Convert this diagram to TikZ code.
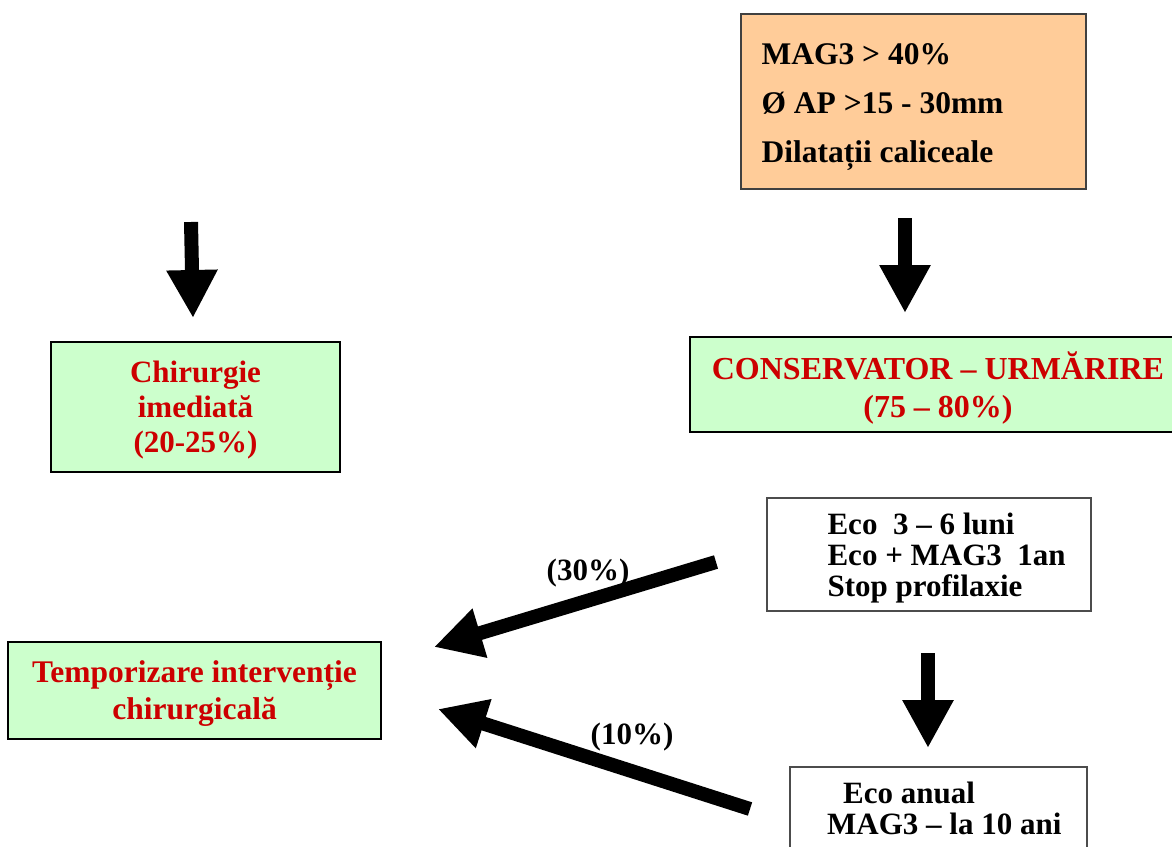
\documentclass[tikz,border=0pt]{standalone}
\usepackage{fontspec}
\setmainfont{Liberation Serif}
\usepackage{tikz}
\usetikzlibrary{positioning, arrows.meta}
\definecolor{boxOrange}{RGB}{255,204,153}
\definecolor{boxGreen}{RGB}{204,255,204}
\definecolor{txtRed}{RGB}{204,0,0}

\begin{document}
\begin{tikzpicture}[
    x=1pt, y=-1pt,
    greenbox/.style={rectangle, draw=black, line width=2pt, fill=boxGreen, text=txtRed, align=center, font=\fontsize{31}{35}\selectfont\bfseries, inner sep=0pt, text depth=0pt},
    plainbox/.style={rectangle, draw=black!70, line width=1.3pt, fill=white, inner sep=0pt},
    boxtext/.style={align=left, inner sep=0pt, font=\fontsize{31}{31}\selectfont\bfseries},
    bigarrow/.style={-{Triangle[width=48pt, length=48pt]}, line width=14pt},
    pctlabel/.style={font=\fontsize{31}{31}\selectfont\bfseries, inner sep=0pt}
]
\useasboundingbox (0,0) rectangle (1172,846);

% Boxes
\node[plainbox, draw=black!75, fill=boxOrange, minimum width=345pt, minimum height=175pt] (criteria) at (913.5,101.5) {};
\node[boxtext, font=\fontsize{31.5}{49}\selectfont\bfseries, right=21pt of criteria.west, yshift=-6pt] (criteriatxt) {MAG3 > 40\%\\Ø AP >15 - 30mm\\Dilatații caliceale};

\node[greenbox, minimum width=289pt, minimum height=130pt] (surgery) at (195.5,407) {Chirurgie\\imediată\\(20-25\%)};
\node[greenbox, minimum width=484pt, minimum height=95pt, font=\fontsize{32}{38}\selectfont\bfseries] (conserv) at (932,384.5) {\hspace{12pt}CONSERVATOR -- URMĂRIRE\\\hspace{12pt}(75 -- 80\%)};

\node[plainbox, minimum width=324pt, minimum height=113pt] (followup) at (929,554.5) {};
\node[boxtext, right=61pt of followup.west, yshift=-4pt] (followuptxt) {Eco\ \ 3 -- 6 luni\\Eco + MAG3\ \ 1an\\Stop profilaxie};

\node[plainbox, minimum width=297pt, minimum height=86pt] (yearly) at (938.5,810) {};
\node[boxtext, anchor=west] (yearlytxt) at (827,808) {\hspace{16pt}Eco anual\\MAG3 -- la 10 ani};

\node[greenbox, minimum width=373pt, minimum height=97pt, font=\fontsize{31.5}{37}\selectfont\bfseries] (delay) at (194.5,690.5) {Temporizare intervenție\\chirurgicală};

% Labels
\node[pctlabel] (p30) at (588,573) {(30\%)};
\node[pctlabel] (p10) at (632,737) {(10\%)};

% Arrow ends
\coordinate (s1) at (191,222);
\coordinate (e1) at (193,318);
\coordinate (s2) at (905,218);
\coordinate (e2) at (905,313);
\coordinate (s3) at (716,562);
\coordinate (e3) at (434,647);
\coordinate (s4) at (750,809);
\coordinate (e4) at (438,709);
\coordinate (s5) at (928,653);
\coordinate (e5) at (928,748);

% Arrows
\draw[bigarrow] (s1) -- (e1);
\draw[bigarrow] (s2) -- (e2);
\draw[bigarrow] (s3) -- (e3);
\draw[bigarrow] (s4) -- (e4);
\draw[bigarrow] (s5) -- (e5);
\end{tikzpicture}
\end{document}
